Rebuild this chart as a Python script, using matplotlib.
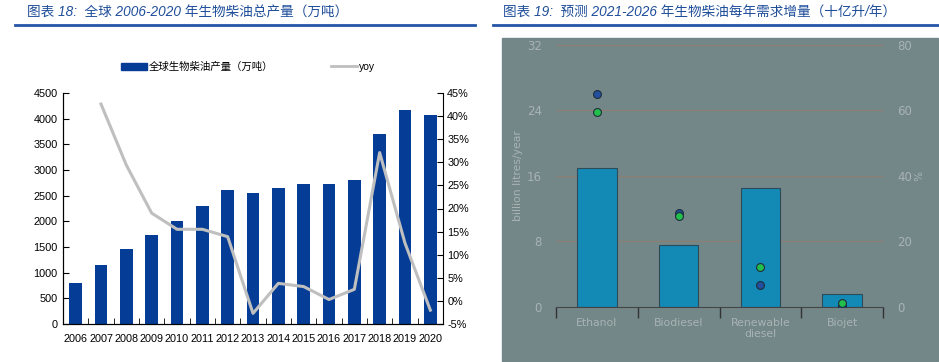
import numpy as np
import matplotlib
matplotlib.use('Agg')
import matplotlib.pyplot as plt
from matplotlib.patches import Rectangle, Patch
from matplotlib.lines import Line2D

plt.rcParams['font.family'] = ['Liberation Sans', 'Noto Sans CJK SC']

# 图表18 数据
years = ['2006', '2007', '2008', '2009', '2010', '2011', '2012', '2013',
         '2014', '2015', '2016', '2017', '2018', '2019', '2020']
output = [805, 1143, 1455, 1727, 2000, 2299, 2610, 2546,
          2643, 2721, 2721, 2799, 3695, 4169, 4077]
yoy = [np.nan, 42.6, 29.4, 19.0, 15.5, 15.5, 13.9, -2.7,
       3.8, 3.1, 0.3, 2.5, 32.1, 12.5, -2.0]

# 图表19 数据
fuels = ['Ethanol', 'Biodiesel', 'Renewable\ndiesel', 'Biojet']
demand = [17.0, 7.5, 14.5, 1.55]
share_blue = [65.1, 28.5, 6.5, 0.2]
share_green = [59.6, 27.7, 12.0, 1.1]
left_ticks = [0, 8, 16, 24, 32]

W, H = 939, 362
fig = plt.figure(figsize=(W / 100, H / 100), dpi=100)

def box(x0, y0, x1, y1):
    # 像素坐标 -> figure 比例
    return [x0 / W, 1 - y1 / H, (x1 - x0) / W, (y1 - y0) / H]

title_c = '#1F4E9A'
fig.text(27 / W, 1 - 12 / H, '图表 18:  全球 2006-2020 年生物柴油总产量（万吨）',
         color=title_c, fontsize=9.8, style='italic', weight='medium',
         va='center', ha='left')
fig.text(503 / W, 1 - 12 / H, '图表 19:  预测 2021-2026 年生物柴油每年需求增量（十亿升/年）',
         color=title_c, fontsize=9.8, style='italic', weight='medium',
         va='center', ha='left')
fig.add_artist(Line2D([15 / W, 475 / W], [1 - 24.5 / H] * 2, color='#2554A6', lw=2))
fig.add_artist(Line2D([493 / W, 938 / W], [1 - 24.5 / H] * 2, color='#2554A6', lw=2))

# ---- 左图 ----
ax = fig.add_axes(box(63, 93, 443, 324))
x = np.arange(len(years))
ax.bar(x, output, width=0.5, color='#053D96', zorder=2)
ax.set_xlim(-0.5, len(years) - 0.5)
ax.set_ylim(0, 4500)
ax.set_yticks(range(0, 4501, 500))
ax.set_xticks(x)
ax.set_xticklabels(years)
ax.set_xticks(np.arange(0.5, len(years) - 1, 1), minor=True)
ax.tick_params(axis='x', which='major', length=0, pad=7, labelsize=7.8)
ax.tick_params(axis='x', which='minor', length=4, direction='in')
ax.tick_params(axis='y', labelsize=7.8, length=4, direction='in', pad=4)
ax.spines['top'].set_visible(False)
ax.spines['right'].set_visible(False)

ax2 = ax.twinx()
ax2.plot(x, yoy, color='#BFBFBF', lw=2.2, zorder=3)
ax2.set_ylim(-5, 45)
ax2.set_yticks(range(-5, 46, 5))
ax2.set_yticklabels([f'{v}%' for v in range(-5, 46, 5)])
ax2.tick_params(axis='y', labelsize=7.8, length=4, direction='in', pad=3)
ax2.spines['top'].set_visible(False)

handles = [Patch(color='#053D96'), Line2D([], [], color='#BFBFBF', lw=2)]
leg = ax.legend(handles, ['全球生物柴油产量（万吨）', 'yoy'], loc='center',
                bbox_to_anchor=(0.487, 1 + 26 / 231), ncol=2, frameon=False,
                fontsize=7.5, handlelength=2.5, handleheight=0.75,
                handletextpad=0.15, columnspacing=5.6)

# ---- 右图 ----
fig.add_artist(Rectangle((502 / W, 1 - 361 / H), 436 / W, 323 / H,
                         transform=fig.transFigure, color='#738789', zorder=0))
bx = fig.add_axes(box(556, 45, 883, 306.7))
bx.patch.set_visible(False)
lab_c = '#A9B3B3'
xc = np.arange(len(fuels))
bx.hlines(left_ticks[1:], -0.5, len(fuels) - 0.5, colors='#8C7E72', lw=0.9,
          zorder=1, clip_on=False)
bx.bar(xc, demand, width=0.486, color='#1389B6', edgecolor='#2E4B58', lw=0.8, zorder=2)
bx.set_xlim(-0.5, len(fuels) - 0.5)
bx.set_ylim(0, 32)
bx.set_yticks(left_ticks)
bx.set_xticks(xc)
bx.set_xticklabels(fuels)
bx.set_xticks(np.arange(-0.5, len(fuels), 1), minor=True)
bx.tick_params(axis='x', which='major', length=0, pad=8, labelsize=7.8,
               labelcolor=lab_c, labelfontfamily='DejaVu Sans')
bx.tick_params(axis='x', which='minor', length=8, direction='out', color='#333333', width=1)
bx.tick_params(axis='y', length=0, pad=10, labelsize=8.5, labelcolor=lab_c,
               labelfontfamily='DejaVu Sans')
for s in ['top', 'left', 'right']:
    bx.spines[s].set_visible(False)
bx.spines['bottom'].set_color('#444444')
bx.set_ylabel('billion litres/year', color=lab_c, fontsize=7.8, labelpad=3,
              family='DejaVu Sans')

bx2 = bx.twinx()
bx2.scatter(xc, share_blue, s=32, color='#22509E', edgecolor='#1E2E3A', lw=0.8, zorder=4)
bx2.scatter(xc, share_green, s=32, color='#22C04A', edgecolor='#1E2E3A', lw=0.8, zorder=5)
bx2.set_ylim(0, 80)
bx2.set_yticks([0, 20, 40, 60, 80])
bx2.tick_params(axis='y', length=0, pad=10, labelsize=8.5, labelcolor=lab_c,
                labelfontfamily='DejaVu Sans')
for s in bx2.spines.values():
    s.set_visible(False)
bx2.set_ylabel('%', color=lab_c, fontsize=7.5, rotation=-90, labelpad=6,
               family='DejaVu Sans')

fig.savefig('out.png', dpi=100)
